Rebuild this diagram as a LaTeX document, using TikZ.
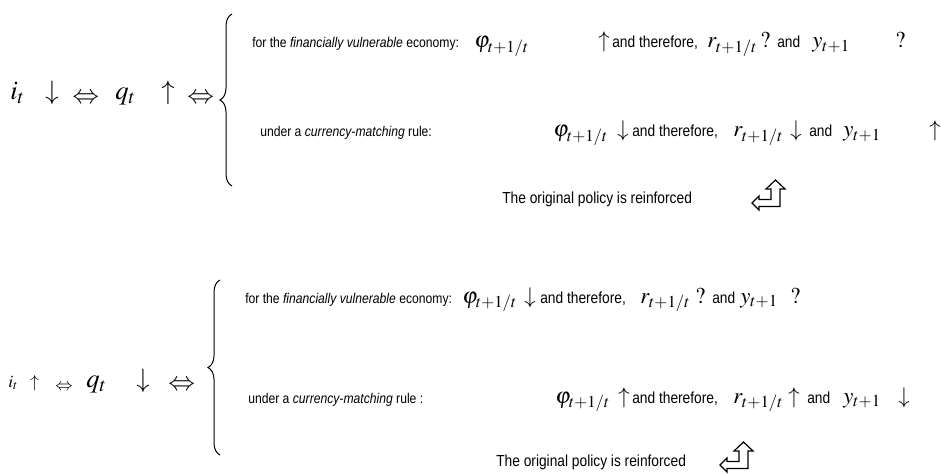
\documentclass[tikz,border=0pt]{standalone}
\usepackage{mathptmx}
\usepackage{fontspec}
\setmainfont{Liberation Sans}[FakeStretch=0.86]
\usetikzlibrary{positioning, decorations.pathreplacing}

\begin{document}
\begin{tikzpicture}[
  x=0.75pt, y=-0.75pt,
  txt/.style={font=\fontsize{10.6}{13}\selectfont, inner sep=0pt, anchor=base west},
  wrd/.style={font=\fontsize{12}{14}\selectfont, inner sep=0pt, anchor=base west},
  mth/.style={font=\fontsize{17}{20}\selectfont, inner sep=0pt, anchor=base west},
  mbig/.style={font=\fontsize{20}{24}\selectfont, inner sep=0pt, anchor=base west},
  msml/.style={font=\fontsize{13}{15}\selectfont, inner sep=0pt, anchor=base west},
  brc/.style={decorate, decoration={brace, amplitude=9pt}, line width=0.75pt},
  bent/.pic={
    \draw[line width=0.9pt, line join=miter, yscale=-1]
      (0,5) -- (7,12) -- (7,8.5) -- (19,8.5) -- (19,19) -- (14,19) -- (23.5,28)
      -- (33,19) -- (28,19) -- (28,1.5) -- (7,1.5) -- (7,-2) -- cycle;
  }
]
  \useasboundingbox (0,0) rectangle (941,474);

  % first case: rate cut
  \node[mbig] (ia) at (10,100)  {$i_t$};
  \node[mbig] (da) at (45,100)  {$\downarrow$};
  \node[mbig] (ea) at (72,104)  {$\Leftrightarrow$};
  \node[mbig] (qa) at (115,100) {$q_t$};
  \node[mbig] (ua) at (161,100) {$\uparrow$};
  \node[mbig] (fa) at (187,104) {$\Leftrightarrow$};
  \draw[brc] (232,186) -- (232,14);

  \node[txt] (va) at (252,48) {for the \textit{financially vulnerable} economy:};
  \node[mth] (pa) at (474,48) {$\varphi_{t+1/t}$};
  \node[mth] (pua) at (598,48) {$\uparrow$};
  \node[wrd] (tha) at (612,48) {and therefore,};
  \node[mth] (ra) at (707,48) {$r_{t+1/t}$};
  \node[mth] (qra) at (760,48) {$?$};
  \node[wrd] (ana) at (777,48) {and};
  \node[mth] (ya) at (812,48) {$y_{t+1}$};
  \node[mth] (qya) at (895,48) {$?$};

  \node[txt] (ca) at (260,137) {under a \textit{currency-matching} rule:};
  \node[mth] (pb) at (553,137) {$\varphi_{t+1/t}$};
  \node[mth] (pdb) at (617,137) {$\downarrow$};
  \node[wrd] (thb) at (632,137) {and therefore,};
  \node[mth] (rb) at (733,137) {$r_{t+1/t}$};
  \node[mth] (rdb) at (790,137) {$\downarrow$};
  \node[wrd] (anb) at (809,137) {and};
  \node[mth] (yb) at (843,137) {$y_{t+1}$};
  \node[mth] (yub) at (929,137) {$\uparrow$};

  \node[wrd] (ra1) at (502,203) {The original policy is reinforced};
  \pic at (752,208) {bent};

  % second case: rate hike
  \node[msml] (ic) at (8,387)   {$i_t$};
  \node[msml] (uc) at (30,387)  {$\uparrow$};
  \node[msml] (ec) at (55,390)  {$\Leftrightarrow$};
  \node[mbig] (qc) at (86,387)  {$q_t$};
  \node[mbig] (dc) at (136,387) {$\downarrow$};
  \node[mbig] (fc) at (168,390) {$\Leftrightarrow$};
  \draw[brc] (220,455) -- (220,280);

  \node[txt] (vc) at (245,303) {for the \textit{financially vulnerable} economy:};
  \node[mth] (pc) at (462,303) {$\varphi_{t+1/t}$};
  \node[mth] (pdc) at (524,303) {$\downarrow$};
  \node[wrd] (thc) at (540,303) {and therefore,};
  \node[mth] (rc) at (640,303) {$r_{t+1/t}$};
  \node[mth] (qrc) at (695,303) {$?$};
  \node[wrd] (anc) at (712,303) {and};
  \node[mth] (yc) at (740,303) {$y_{t+1}$};
  \node[mth] (qyc) at (790,303) {$?$};

  \node[txt] (cd) at (248,403) {under a \textit{currency-matching} rule :};
  \node[mth] (pd) at (555,403) {$\varphi_{t+1/t}$};
  \node[mth] (pud) at (618,403) {$\uparrow$};
  \node[wrd] (thd) at (632,403) {and therefore,};
  \node[mth] (rd) at (733,403) {$r_{t+1/t}$};
  \node[mth] (rud) at (788,403) {$\uparrow$};
  \node[wrd] (and) at (807,403) {and};
  \node[mth] (yd) at (843,403) {$y_{t+1}$};
  \node[mth] (ydd) at (898,403) {$\downarrow$};

  \node[wrd] (rc1) at (496,466) {The original policy is reinforced};
  \pic at (720,470) {bent};
\end{tikzpicture}
\end{document}
